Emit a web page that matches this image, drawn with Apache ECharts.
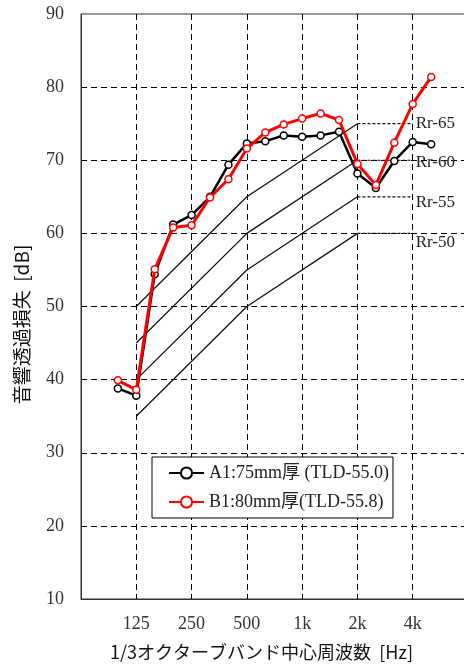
<!DOCTYPE html>
<html>
<head>
<meta charset="utf-8">
<script src="https://cdn.jsdelivr.net/npm/echarts@6/dist/echarts.min.js"></script>
<style>
  html, body { margin: 0; padding: 0; background: #fff; }
  #chart { width: 464px; height: 668px; }
</style>
</head>
<body>
<div id="chart"></div>
<script>
// 1/3 octave bands, position in this list = x value
var bands = ['63', '80', '100', '125', '160', '200', '250', '315', '400', '500', '630', '800',
             '1k', '1.25k', '1.6k', '2k', '2.5k', '3.15k', '4k', '5k', '6.3k', '8k'];
var tickLabels = { 3: '125', 6: '250', 9: '500', 12: '1k', 15: '2k', 18: '4k' };

// measured bands 100 .. 5k
var measBands = ['100', '125', '160', '200', '250', '315', '400', '500', '630', '800',
                 '1k', '1.25k', '1.6k', '2k', '2.5k', '3.15k', '4k', '5k'];
var a1 = [38.8, 37.8, 54.4, 61.2, 62.5, 65.0, 69.4, 72.3, 72.6, 73.4,
          73.2, 73.4, 73.9, 68.2, 66.2, 69.9, 72.5, 72.2];
var b1 = [39.9, 38.6, 55.1, 60.8, 61.1, 64.9, 67.4, 71.6, 73.8, 74.9,
          75.7, 76.4, 75.5, 69.5, 66.6, 72.4, 77.7, 81.4];

// Rr reference curves at 125, 500, 2k, 4k
var rrBands = ['125', '500', '2k', '4k'];
var rrNames = ['Rr-65', 'Rr-60', 'Rr-55', 'Rr-50'];
var rr65 = [50, 65, 75, 75];
var rr60 = [45, 60, 70, 70];
var rr55 = [40, 55, 65, 65];
var rr50 = [35, 50, 60, 60];
var rrLabelDy = [0, 2, 6, 9];

function pts(bs, vals) {
    var out = [];
    for (var i = 0; i < bs.length; i++) {
        out.push([bands.indexOf(bs[i]), vals[i]]);
    }
    return out;
}

var serif = '"Liberation Serif", "Times New Roman", "Noto Sans CJK JP", serif';
var series = [];

[rr65, rr60, rr55, rr50].forEach(function (vals, k) {
    var p = pts(rrBands, vals);
    series.push({
        type: 'line', silent: true, symbol: 'none', z: 1,
        data: p.slice(0, 3),
        lineStyle: { color: '#111', width: 1.3 }
    });
    series.push({
        type: 'line', silent: true, symbol: 'none', z: 1,
        data: p.slice(2),
        lineStyle: { color: '#111', width: 1.2, type: [3, 2] },
        endLabel: {
            show: true, formatter: rrNames[k], distance: 3,
            offset: [0, rrLabelDy[k]],
            fontFamily: serif, fontSize: 17, color: '#222'
        }
    });
});

series.push({
    name: 'A1:75mm厚 (TLD-55.0)', type: 'line', z: 3,
    data: pts(measBands, a1),
    symbol: 'circle', symbolSize: 7,
    lineStyle: { color: '#000', width: 2.5 },
    itemStyle: { color: '#fff', borderColor: '#000', borderWidth: 1.5 }
});
series.push({
    name: 'B1:80mm厚(TLD-55.8)', type: 'line', z: 4,
    data: pts(measBands, b1),
    symbol: 'circle', symbolSize: 7,
    lineStyle: { color: '#ff0000', width: 3 },
    itemStyle: { color: '#fff', borderColor: '#ff0000', borderWidth: 1.5 }
});

var chart = echarts.init(document.getElementById('chart'));
chart.setOption({
    animation: false,
    backgroundColor: '#fff',
    grid: {
        left: 81, top: 14, width: 387, height: 585,
        outerBoundsMode: 'none', containLabel: false,
        show: true, borderColor: '#333', borderWidth: 1
    },
    xAxis: {
        type: 'value', min: 0, max: 21, interval: 3,
        axisLine: { show: true, lineStyle: { color: '#333', width: 1 } },
        axisTick: { show: false },
        axisLabel: {
            margin: 16, fontFamily: serif, fontSize: 18, color: '#333',
            formatter: function (v) { return tickLabels[v] || ''; }
        },
        splitLine: {
            show: true, showMinLine: false, showMaxLine: false,
            lineStyle: { color: '#000', type: [6, 4], width: 1 }
        },
        name: '1/3オクターブバンド中心周波数  [Hz]',
        nameLocation: 'middle', nameGap: 44,
        nameTextStyle: {
            fontFamily: '"Noto Sans CJK JP", sans-serif', fontSize: 18, color: '#111',
            padding: [0, 26, 0, 0]
        }
    },
    yAxis: {
        type: 'value', min: 10, max: 90, interval: 10,
        axisLine: { show: true, lineStyle: { color: '#333', width: 1 } },
        axisTick: { show: false },
        axisLabel: { margin: 17, fontFamily: serif, fontSize: 18, color: '#333' },
        splitLine: {
            show: true, showMinLine: false, showMaxLine: false,
            lineStyle: { color: '#000', type: [6, 4], width: 1 }
        },
        name: '音響透過損失  [dB]',
        nameLocation: 'middle', nameGap: 50, nameRotate: 90,
        nameTextStyle: {
            fontFamily: '"Noto Sans CJK JP", sans-serif', fontSize: 19, color: '#111',
            padding: [0, 36, 0, 0]
        }
    },
    legend: {
        orient: 'vertical', left: 152, top: 457,
        padding: [6, 4, 6, 16], itemGap: 9,
        itemWidth: 35, itemHeight: 14,
        backgroundColor: '#fff', borderColor: '#000', borderWidth: 1,
        textStyle: { fontFamily: serif, fontSize: 18, color: '#222', lineHeight: 20 },
        data: ['A1:75mm厚 (TLD-55.0)', 'B1:80mm厚(TLD-55.8)']
    },
    series: series
});
</script>
</body>
</html>
